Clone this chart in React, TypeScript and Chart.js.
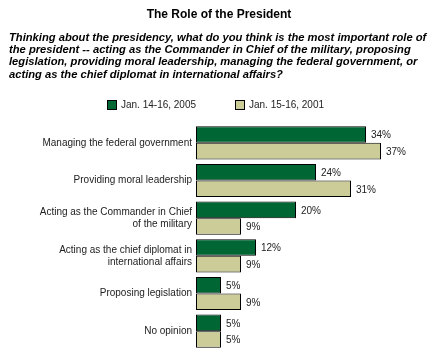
import React, { useEffect, useRef } from "react";
import { Chart, registerables } from "chart.js";

Chart.register(...registerables);

const categories: (string | string[])[] = [
  "Managing the federal government",
  "Providing moral leadership",
  ["Acting as the Commander in Chief", "of the military"],
  ["Acting as the chief diplomat in", "international affairs"],
  "Proposing legislation",
  "No opinion",
];
const series2005 = [34, 24, 20, 12, 5, 5];
const series2001 = [37, 31, 9, 9, 9, 5];
const seriesNames = ["Jan. 14-16, 2005", "Jan. 15-16, 2001"];
const titleText = "The Role of the President";
const questionLines = [
  "Thinking about the presidency, what do you think is the most important role of",
  "the president -- acting as the Commander in Chief of the military, proposing",
  "legislation, providing moral leadership, managing the federal government, or",
  "acting as the chief diplomat in international affairs?",
];

const DARK = "#006633";
const LIGHT = "#CCCC99";
const TEXT = "#222222";
const FONT = "Arial, 'Liberation Sans', sans-serif";

const decorPlugin = {
  id: "decor",
  afterDraw(chart: any) {
    const ctx = chart.ctx;
    ctx.save();
    // title
    ctx.fillStyle = "#000";
    ctx.font = `bold 12px ${FONT}`;
    ctx.textAlign = "center";
    ctx.textBaseline = "middle";
    ctx.fillText(titleText, 219, 15);
    // question
    ctx.font = `italic bold 11.2px ${FONT}`;
    ctx.textAlign = "left";
    questionLines.forEach((l, i) => ctx.fillText(l, 9, 38 + i * 12.2));
    // legend
    const items = [
      { x: 107, color: DARK, label: seriesNames[0] },
      { x: 235, color: LIGHT, label: seriesNames[1] },
    ];
    ctx.font = `10px ${FONT}`;
    items.forEach((it) => {
      ctx.fillStyle = it.color;
      ctx.fillRect(it.x, 100, 10, 10);
      ctx.strokeStyle = "#000";
      ctx.lineWidth = 1;
      ctx.strokeRect(it.x + 0.5, 100.5, 9, 9);
      ctx.fillStyle = TEXT;
      ctx.textBaseline = "middle";
      ctx.fillText(it.label, it.x + 14, 105);
    });
    // value labels
    ctx.font = `10px ${FONT}`;
    ctx.fillStyle = TEXT;
    ctx.textAlign = "left";
    ctx.textBaseline = "middle";
    chart.data.datasets.forEach((ds: any, di: number) => {
      const meta = chart.getDatasetMeta(di);
      meta.data.forEach((bar: any, i: number) => {
        ctx.fillText(ds.data[i] + "%", bar.x + 5, bar.y + 1);
      });
    });
    ctx.restore();
  },
};

export default function App() {
  const ref = useRef<HTMLCanvasElement>(null);
  useEffect(() => {
    document.body.style.margin = "0";
    const chart = new Chart(ref.current!, {
      type: "bar",
      data: {
        labels: categories,
        datasets: [
          {
            label: seriesNames[0],
            data: series2005,
            backgroundColor: DARK,
            borderColor: "#000",
            borderWidth: 1,
            borderSkipped: false,
            categoryPercentage: 0.88,
            barPercentage: 1,
          },
          {
            label: seriesNames[1],
            data: series2001,
            backgroundColor: LIGHT,
            borderColor: "#000",
            borderWidth: 1,
            borderSkipped: false,
            categoryPercentage: 0.88,
            barPercentage: 1,
          },
        ],
      },
      options: {
        indexAxis: "y",
        responsive: false,
        animation: false,
        layout: { padding: { top: 124, bottom: 4, left: 0, right: 19 } },
        plugins: {
          legend: { display: false },
          title: { display: false },
          tooltip: { enabled: false },
        },
        scales: {
          x: { display: false, min: 0, max: 45 },
          y: {
            grid: { display: false, drawTicks: false },
            border: { display: false },
            ticks: {
              color: TEXT,
              font: { family: FONT, size: 10, lineHeight: 1.2 },
              padding: 4,
              autoSkip: false,
            },
            afterFit(scale: any) {
              scale.width = 196;
            },
          },
        },
      },
      plugins: [decorPlugin],
    });
    return () => chart.destroy();
  }, []);
  return <canvas ref={ref} width={440} height={360} style={{ display: "block" }} />;
}
